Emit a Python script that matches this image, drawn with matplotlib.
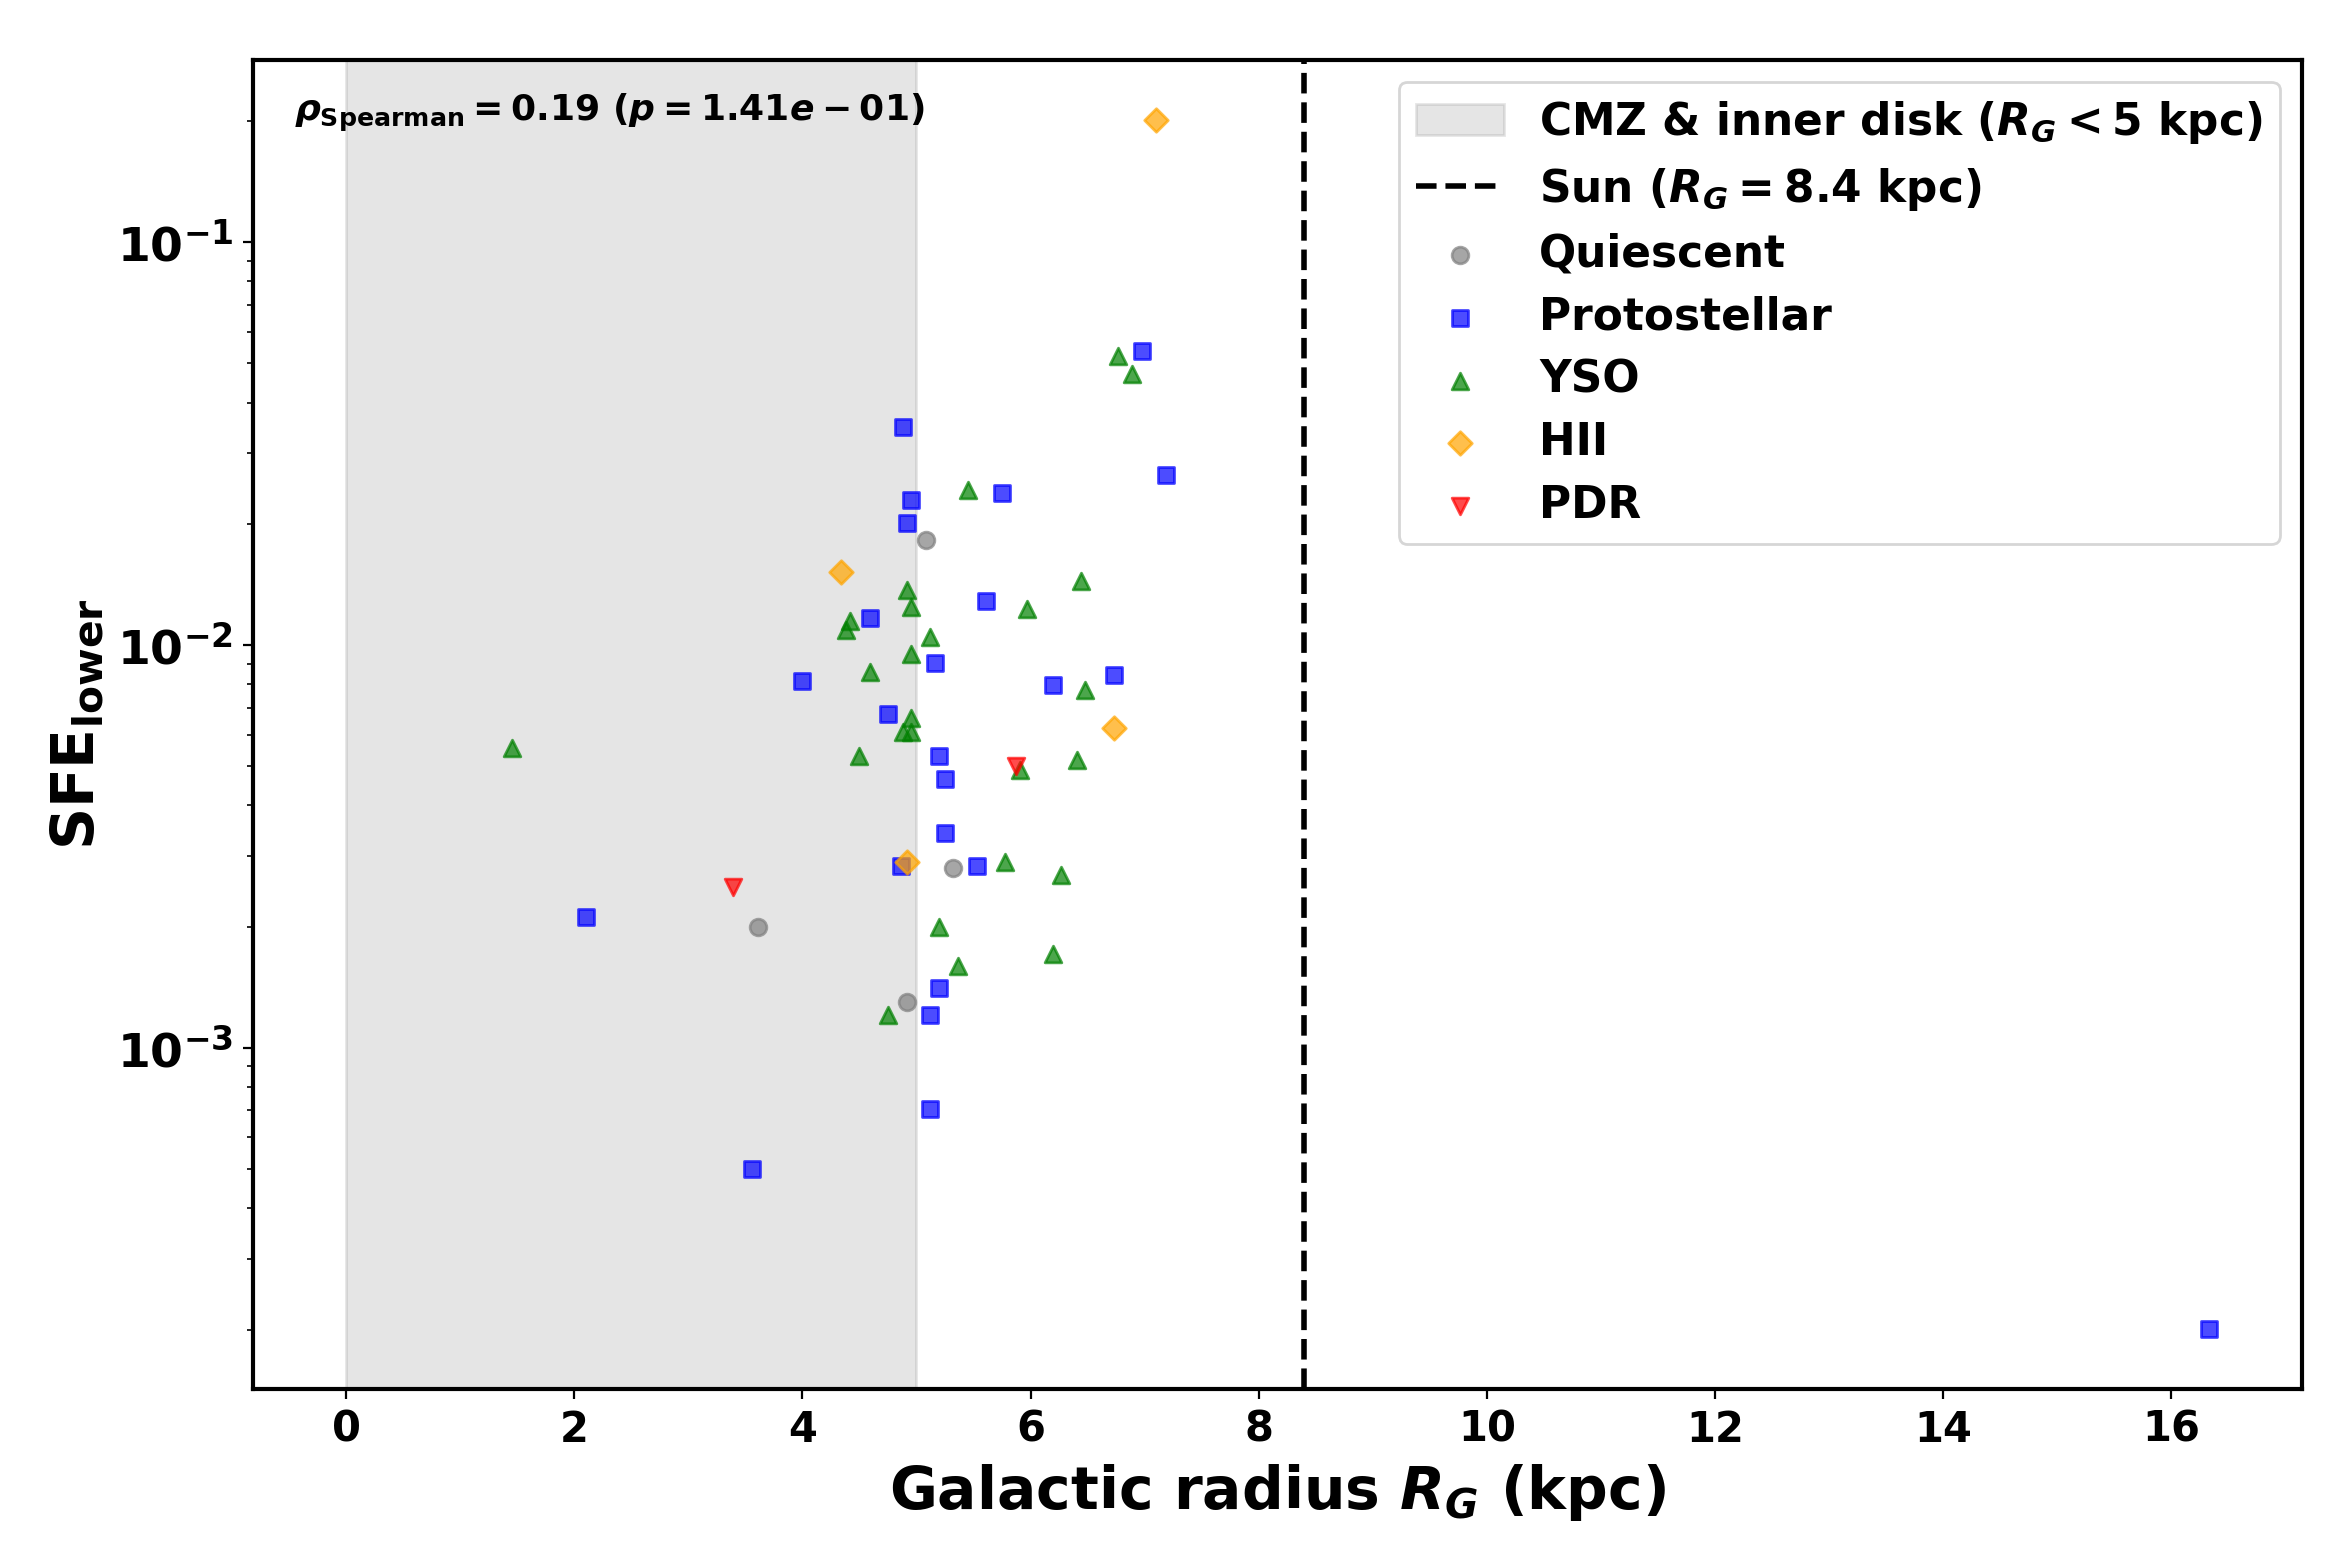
import matplotlib
matplotlib.use("Agg")
import matplotlib.pyplot as plt
import numpy as np

plt.rcParams['font.weight'] = 'bold'
plt.rcParams['axes.labelweight'] = 'bold'
plt.rcParams['mathtext.fontset'] = 'custom'
plt.rcParams['mathtext.rm'] = 'DejaVu Sans:bold'
plt.rcParams['mathtext.bf'] = 'DejaVu Sans:bold'
plt.rcParams['mathtext.it'] = 'DejaVu Sans:italic:bold'
plt.rcParams['mathtext.sf'] = 'DejaVu Sans:bold'

# Galactic radius (kpc) and lower-limit SFE per evolutionary class
quiescent_r = [5.08, 3.61, 4.92, 5.32]
quiescent_sfe = [0.0182, 0.0020, 0.0013, 0.0028]

proto_r = [6.98, 4.88, 4.95, 5.75, 7.19, 4.92, 5.61, 4.59, 5.16, 4.00, 6.20, 6.73,
           4.75, 5.20, 5.25, 5.25, 4.86, 5.53, 2.10, 5.20, 5.12, 5.12, 3.56, 16.33]
proto_sfe = [0.0537, 0.0347, 0.0229, 0.0239, 0.0264, 0.0201, 0.0129, 0.0117, 0.00903,
             0.00815, 0.00794, 0.00843, 0.00676, 0.00532, 0.00464, 0.00341, 0.00283,
             0.00283, 0.00212, 0.00141, 0.00121, 0.000705, 0.000501, 0.000201]

yso_r = [6.77, 6.89, 5.45, 6.44, 4.92, 4.95, 5.97, 4.42, 4.38, 5.12, 4.95, 4.59, 6.48,
         4.95, 4.88, 4.95, 4.50, 1.45, 6.41, 5.91, 5.78, 6.27, 5.20, 5.36, 6.20, 4.75]
yso_sfe = [0.0523, 0.0472, 0.0243, 0.0144, 0.0137, 0.0124, 0.0123, 0.0115, 0.0109,
           0.0105, 0.0095, 0.00858, 0.00774, 0.00659, 0.0061, 0.0061, 0.00532, 0.00554,
           0.00519, 0.00489, 0.0029, 0.00269, 0.0020, 0.0016, 0.00171, 0.00121]

hii_r = [7.10, 4.34, 6.73, 4.92]
hii_sfe = [0.201, 0.0152, 0.00621, 0.0029]

pdr_r = [5.87, 3.39]
pdr_sfe = [0.00501, 0.00251]

rho = 0.19
r_sun = 8.4
r_inner = 5

fig = plt.figure(figsize=(11.71, 7.84), dpi=200)
ax = fig.add_axes([0.108, 0.114, 0.875, 0.848])

ax.axvspan(0, r_inner, color='gray', alpha=0.2, label=r'CMZ & inner disk ($R_G < 5$ kpc)')
ax.axvline(r_sun, color='black', ls='--', lw=2, label=r'Sun ($R_G = 8.4$ kpc)')

ax.scatter(quiescent_r, quiescent_sfe, marker='o', color='gray', alpha=0.7, label='Quiescent')
ax.scatter(proto_r, proto_sfe, marker='s', color='blue', alpha=0.7, label='Protostellar')
ax.scatter(yso_r, yso_sfe, marker='^', color='green', alpha=0.7, label='YSO')
ax.scatter(hii_r, hii_sfe, marker='D', color='orange', alpha=0.7, label='HII')
ax.scatter(pdr_r, pdr_sfe, marker='v', color='red', alpha=0.7, label='PDR')

ax.set_yscale('log')
ax.set_xlabel(r'Galactic radius $R_G$ (kpc)', fontsize=21, fontweight='bold')
ax.set_ylabel(r'$\mathrm{SFE}_{\mathrm{lower}}$', fontsize=21, fontweight='bold')
ax.tick_params(axis='x', labelsize=15)
ax.tick_params(axis='y', labelsize=17)
for s in ax.spines.values():
    s.set_linewidth(1.5)

ax.text(0.02, 0.96, r'$\rho_{\mathrm{Spearman}} = %.2f$ ($p = 1.41e-01$)' % rho,
        transform=ax.transAxes, fontsize=13, fontweight='bold', va='center')

ax.legend(loc='upper right', fontsize=15.8, labelspacing=0.45)

fig.savefig('out.png', dpi=200)
